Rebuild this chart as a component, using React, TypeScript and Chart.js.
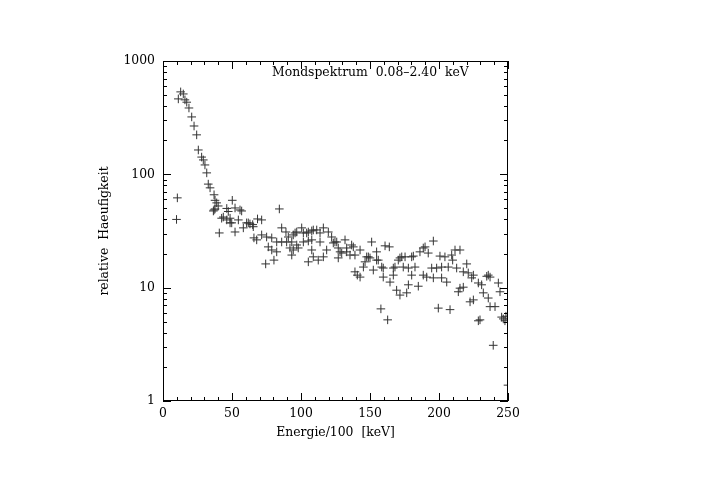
import React, { useEffect, useRef } from "react";
import { Chart, registerables } from "chart.js";
Chart.register(...registerables);

const energy = [
  9.8, 10.4, 11.1, 12.8, 14.7, 15.9, 17.2, 18.8, 20.8, 22.5, 24.4, 25.6, 28.0, 29.2, 30.4, 31.7, 32.8, 34.1,
  37.0, 37.7, 38.9, 37.7, 37.0, 40.0, 36.5, 40.8, 42.5, 43.7, 46.2, 47.3, 46.2, 48.6, 48.6, 49.8, 50.2, 52.2,
  52.2, 54.6, 55.8, 57.0, 58.2, 60.6, 61.8, 63.0, 65.0, 65.4, 65.9, 67.9, 68.5, 71.5, 71.5, 75.1, 74.4, 76.3,
  78.8, 78.8, 80.4, 82.4, 82.4, 84.3, 86.0, 86.0, 89.1, 89.6, 90.8, 92.0, 93.3, 93.3, 94.4, 95.7, 94.4, 96.9,
  96.9, 98.0, 100.5, 101.7, 101.7, 104.1, 105.3, 105.3, 105.3, 107.8, 107.8, 107.8, 108.9, 108.9, 111.4, 112.5,
  113.8, 113.8, 116.2, 116.2, 118.6, 119.8, 122.2, 123.4, 124.6, 125.9, 127.0, 127.0, 128.3, 129.5, 131.9, 133.1,
  133.1, 135.5, 136.7, 137.9, 139.1, 139.1, 140.8, 142.8, 142.8, 145.2, 146.4, 147.6, 148.8, 150.0, 151.2, 152.4,
  154.8, 154.8, 156.0, 157.9, 158.5, 159.6, 159.6, 160.9, 162.8, 164.0, 164.5, 166.9, 166.9, 168.1, 169.3, 170.5,
  171.7, 171.7, 173.0, 174.1, 175.4, 176.6, 177.8, 177.8, 180.2, 180.2, 181.4, 182.6, 185.0, 186.2, 188.6, 188.6,
  189.9, 191.1, 192.2, 194.7, 195.9, 195.9, 198.3, 199.5, 200.7, 201.9, 201.9, 204.3, 205.6, 206.7, 208.0, 209.2,
  209.9, 211.6, 212.8, 214.0, 215.2, 215.2, 217.6, 217.6, 220.1, 221.2, 222.5, 223.7, 224.9, 224.9, 228.5, 228.5,
  229.7, 230.9, 232.1, 234.6, 235.7, 235.7, 237.0, 237.0, 239.3, 240.6, 243.0, 244.2, 245.4, 246.6, 247.8, 248.5,
  250.0,
];

const frequency = [
  40, 62, 463, 534, 512, 454, 433, 385, 321, 267, 223, 164, 142, 134, 121, 103, 82, 76,
  66, 59, 56, 49.5, 48.5, 52.6, 47.5, 30.4, 41, 42, 50, 47, 39.6, 41, 37.3, 37.3, 59, 50.5,
  31, 39.6, 48.5, 47.5, 33.7, 37.3, 37.3, 36.5, 36, 34.5, 27.5, 26.4, 40.4, 39.6, 29.2, 28, 16.2, 22.9,
  27.5, 21.5, 17.5, 25.3, 20.7, 49.5, 33.7, 25.3, 31, 25.3, 28, 22.4, 25.3, 19.4, 29.2, 30.4, 21.5, 23.8,
  31, 22.4, 33.7, 30.4, 25.3, 30.4, 31, 25.8, 16.9, 31.7, 26.4, 21.5, 32.3, 18.7, 32.3, 17.5,
  30.4, 25.3, 33.7, 18.7, 21.5, 31, 28, 24.8, 25.3, 25.3, 22.4, 18.3, 20.7, 20.2, 26.4, 22.4,
  20.7, 19.4, 23.8, 22.9, 19.4, 13.8, 12.9, 21.5, 12.4, 15.2, 16.9, 18.7, 18.7, 18.3, 25.3, 14.3,
  20.7, 17.5, 17.5, 6.5, 15.2, 12.4, 14.9, 23.4, 5.2, 22.9, 11.2, 12.9, 14.9, 15.2, 9.5, 17.5,
  18.3, 8.6, 18.7, 15.2, 18.7, 9, 14.9, 10.6, 18.7, 12.9, 19, 15.2, 10.3, 20.7, 22.4, 12.9,
  22.9, 12.4, 20.2, 14.9, 25.8, 12.2, 14.9, 6.6, 19, 15.2, 12.2, 18.7, 11.2, 15.2, 6.4, 19.4,
  17.5, 21.5, 14.9, 9.2, 21.5, 9.9, 10.1, 13.8, 16.2, 13.5, 7.5, 12.2, 12.9, 7.8, 11, 5.1,
  5.2, 10.6, 9, 12.6, 12.9, 8.1, 6.8, 12.4, 3.1, 6.8, 11, 9.2, 5.5, 5.3, 5.1, 5.6,
  1.38,
];

const xTickLabels = [0, 50, 100, 150, 200, 250];
const yTickLabels = [1, 10, 100, 1000];
const chartTitle = "Mondspektrum  0.08\u20132.40  keV";
const xTitle = "Energie/100  [keV]";
const yTitle = "relative  Haeufigkeit";

const FONT = "'DejaVu Serif', serif";

const framePlugin = {
  id: "frame",
  afterDraw(chart: any) {
    const { ctx, chartArea, scales } = chart;
    const { left, right, top, bottom } = chartArea;
    const xs = scales.x;
    const ys = scales.y;
    ctx.save();
    ctx.strokeStyle = "#000";
    ctx.lineWidth = 1;
    ctx.strokeRect(left + 0.5, top + 0.5, right - left - 1, bottom - top - 1);
    ctx.beginPath();
    for (let v = 0; v <= 250; v += 10) {
      const px = Math.round(xs.getPixelForValue(v)) + 0.5;
      const len = v % 50 === 0 ? 8 : 4;
      ctx.moveTo(px, bottom);
      ctx.lineTo(px, bottom - len);
      ctx.moveTo(px, top);
      ctx.lineTo(px, top + len);
    }
    for (let d = 1; d <= 1000; d *= 10) {
      for (let m = 1; m <= 9; m++) {
        const v = d * m;
        if (v > 1000) break;
        const py = Math.round(ys.getPixelForValue(v)) + 0.5;
        const len = m === 1 ? 8 : 4;
        ctx.moveTo(left, py);
        ctx.lineTo(left + len, py);
        ctx.moveTo(right, py);
        ctx.lineTo(right - len, py);
      }
    }
    ctx.stroke();

    ctx.fillStyle = "#000";
    ctx.font = `12.4px ${FONT}`;
    ctx.textAlign = "left";
    ctx.textBaseline = "middle";
    ctx.fillText(chartTitle, 272, 73);

    ctx.textAlign = "center";
    ctx.fillText(xTitle, (left + right) / 2, 433);

    ctx.translate(105, (top + bottom) / 2);
    ctx.rotate(-Math.PI / 2);
    ctx.fillText(yTitle, 0, 0);
    ctx.restore();
  },
};

export default function App() {
  const ref = useRef<HTMLCanvasElement | null>(null);
  useEffect(() => {
    if (!ref.current) return;
    const chart = new Chart(ref.current, {
      type: "scatter",
      data: {
        datasets: [
          {
            data: energy.map((e, i) => ({ x: e, y: frequency[i] })),
            pointStyle: "cross",
            pointRadius: 4.3,
            pointBorderWidth: 1,
            borderColor: "#333",
            backgroundColor: "#333",
            clip: { left: 6, top: 6, bottom: 6, right: 0 },
          },
        ],
      },
      options: {
        animation: false,
        responsive: false,
        devicePixelRatio: 1,
        layout: { padding: { left: 0, top: 61, right: 194, bottom: 0 } },
        plugins: { legend: { display: false }, tooltip: { enabled: false } },
        scales: {
          x: {
            type: "linear",
            min: 0,
            max: 250,
            border: { display: false },
            grid: { display: false, drawTicks: false },
            afterFit: (s: any) => {
              s.height = 95;
            },
            afterBuildTicks: (s: any) => {
              s.ticks = xTickLabels.map((v) => ({ value: v }));
            },
            ticks: {
              padding: 5,
              color: "#000",
              font: { family: FONT, size: 12.4 },
              maxRotation: 0,
              autoSkip: false,
            },
          },
          y: {
            type: "logarithmic",
            min: 1,
            max: 1000,
            border: { display: false },
            grid: { display: false, drawTicks: false },
            afterFit: (s: any) => {
              s.width = 163;
            },
            afterBuildTicks: (s: any) => {
              s.ticks = yTickLabels.map((v) => ({ value: v }));
            },
            ticks: {
              padding: 8,
              color: "#000",
              font: { family: FONT, size: 12.4 },
              autoSkip: false,
              callback: (v: any) => String(v),
            },
          },
        },
      },
      plugins: [framePlugin],
    });
    return () => chart.destroy();
  }, []);
  return (
    <div style={{ position: "fixed", left: 0, top: 0, width: 702, height: 496, background: "#fff" }}>
      <canvas ref={ref} width={702} height={496} />
    </div>
  );
}
